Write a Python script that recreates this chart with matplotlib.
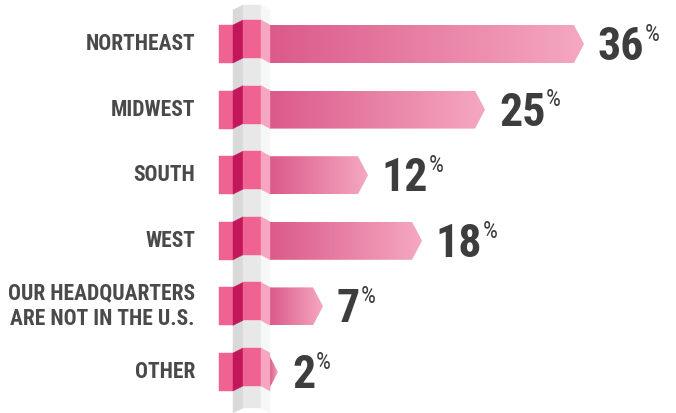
import numpy as np
import matplotlib.pyplot as plt
from matplotlib import font_manager as fm
from matplotlib.patches import Polygon
from matplotlib.colors import LinearSegmentedColormap

##### data
regions = ['NORTHEAST', 'MIDWEST', 'SOUTH', 'WEST',
           'OUR HEADQUARTERS\nARE NOT IN THE U.S.', 'OTHER']
shares = [36, 25, 12, 18, 7, 2]

LABEL_COLOR = '#4a4a4a'
VALUE_COLOR = '#3d3d3d'

### pick a narrow face if one is installed
narrow = [f for f in fm.fontManager.ttflist
          if str(f.stretch) in ('condensed', 'semi-condensed', 'extra-condensed', 'ultra-condensed')
          or 'Narrow' in f.name or 'Condensed' in f.name]
FONT_KW = dict(family=['DejaVu Sans'])
for pref in ['Bebas Neue', 'Oswald', 'Roboto Condensed', 'Liberation Sans Narrow',
             'Open Sans Condensed', 'Noto Sans Condensed', 'DejaVu Sans']:
    hit = [f for f in narrow if f.name == pref]
    if hit:
        FONT_KW = dict(family=[pref, 'DejaVu Sans'], fontstretch=hit[0].stretch)
        break
HAVE_NARROW = bool(narrow)

### layout (figure is 676 x 413 px at 100 dpi)
W, H = 676, 413
ZERO_PX = 260       # pixel column of 0 %
PX_PER_PCT = 9.0    # pixels per percentage point
ROW0_PX = 44        # centre of first row
ROW_PX = 65.6       # row pitch


def px(x):
    """pixel column -> % units"""
    return (x - ZERO_PX) / PX_PER_PCT


def py(y):
    """pixel row -> row units"""
    return (y - ROW0_PX) / ROW_PX


fig = plt.figure(figsize=(W / 100, H / 100), dpi=100)
ax = fig.add_axes([0, 0, 1, 1])
ax.axis('off')

# pillar columns
P0, P1, P2, P3 = px(233), px(243), px(261), px(270)
TAB = px(219)
half = 19 / ROW_PX
lift = 5 / ROW_PX
arrow = 10 / PX_PER_PCT

##### grey pillar
pillar = [
    ([(P0, py(10)), (P1, py(5)), (P1, py(408)), (P0, py(413))], '#d9d9d9'),
    ([(P1, py(5)), (P2, py(5)), (P2, py(408)), (P1, py(408))], '#e8e8e8'),
    ([(P2, py(5)), (P3, py(10)), (P3, py(413)), (P2, py(408))], '#f6f7f7'),
]
for pts, c in pillar:
    ax.add_patch(Polygon(pts, closed=True, fc=c, ec=c, lw=0.3, zorder=1))

grad = LinearSegmentedColormap.from_list('bar', ['#db5a8a', '#f5a8c1'])
g = np.linspace(0, 1, 256).reshape(1, -1)

lab_size = 15.5 if HAVE_NARROW else 12
val_size = 33 if HAVE_NARROW else 26
pct_size = 17 if HAVE_NARROW else 12

for i, (name, v) in enumerate(zip(regions, shares)):
    top, bot = i - half, i + half
    body_end = v - arrow

    # arrow shaped bar with a left-to-right gradient
    shape = Polygon([(P2, top), (body_end, top), (v, i), (body_end, bot), (P2, bot)],
                    closed=True, fc='none', ec='none')
    ax.add_patch(shape)
    im = ax.imshow(g, cmap=grad, extent=(P3, v, bot, top), aspect='auto',
                   interpolation='bilinear', zorder=2)
    im.set_clip_path(shape)

    # band wrapped round the pillar
    band = [
        ([(TAB, top), (P0, top), (P0, bot), (TAB, bot)], '#f06292'),
        ([(P0, top), (P1, top - lift), (P1, bot - lift), (P0, bot)], '#c2185b'),
        ([(P1, top - lift), (P2, top - lift), (P2, bot - lift), (P1, bot - lift)], '#f06292'),
        ([(P2, top - lift), (P3, top), (P3, bot), (P2, bot - lift)], '#f7a6c1'),
    ]
    for pts, c in band:
        ax.add_patch(Polygon(pts, closed=True, fc=c, ec=c, lw=0.3, zorder=3))

    ax.text(px(195), i, name, ha='right', va='center', fontsize=lab_size,
            fontweight='bold', color=LABEL_COLOR, linespacing=1.2, **FONT_KW)

    t = ax.annotate(str(v), xy=(v, i), xytext=(10, -11.5), textcoords='offset points',
                    ha='left', va='baseline', fontsize=val_size, fontweight='bold',
                    color=VALUE_COLOR, **FONT_KW)
    ax.annotate('%', xy=(1, 1), xycoords=t, xytext=(0.5, 1.5), textcoords='offset points',
                ha='left', va='top', fontsize=pct_size, color=VALUE_COLOR, **FONT_KW)

ax.set_xlim(px(0), px(W))
ax.set_ylim(py(H), py(0))

plt.savefig('out.png', dpi=100)
